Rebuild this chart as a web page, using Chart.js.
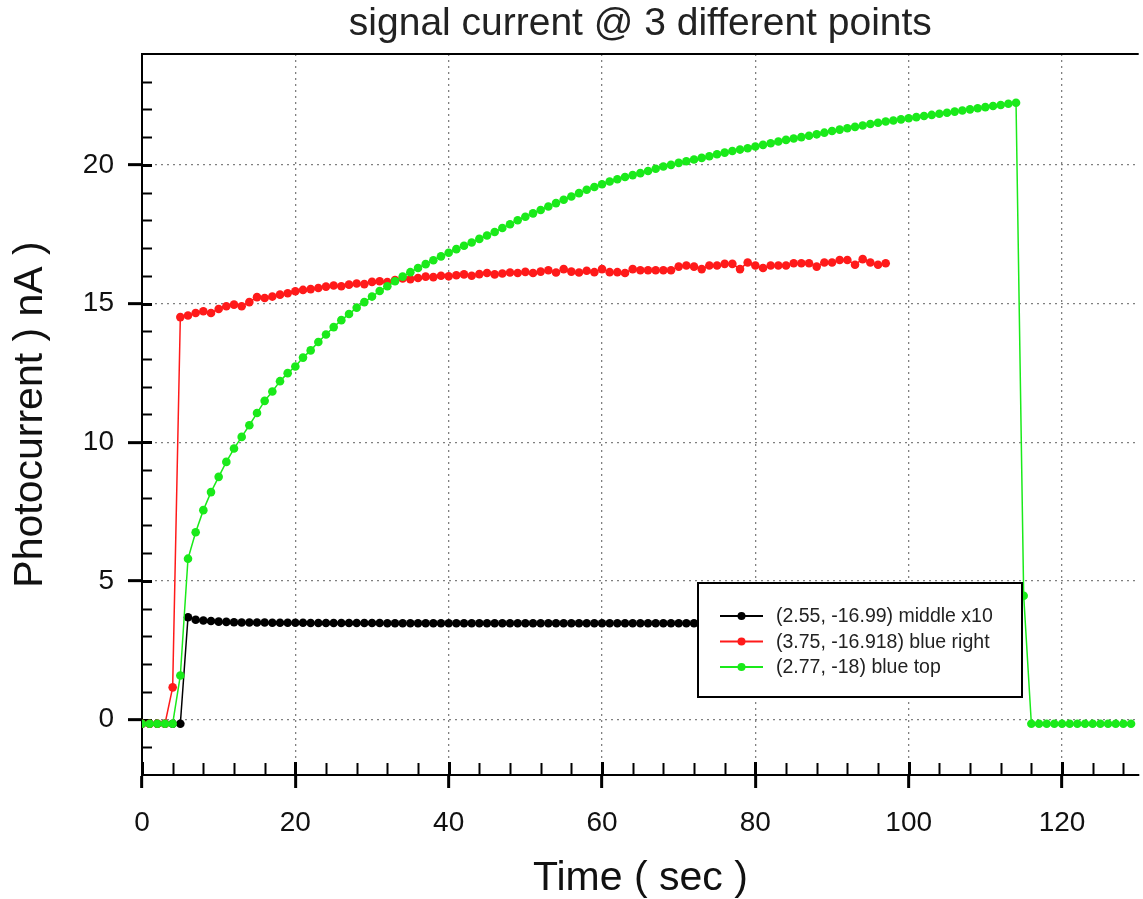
<!DOCTYPE html>
<html>
<head>
<meta charset="utf-8">
<title>signal current</title>
<script src="https://cdn.jsdelivr.net/npm/chart.js@4.4.0/dist/chart.umd.min.js"></script>
<style>
  html, body { margin: 0; padding: 0; background: #fff; }
  canvas { display: block; }
</style>
</head>
<body>
<canvas id="signalChart" width="1143" height="899"></canvas>
<script>
// sampling: one reading per second, all three runs start at t = 0
var sampleStep = 1;

// (2.55, -16.99) middle, already multiplied by 10
var middleX10 = [
  -0.15, -0.15, -0.15, -0.15, -0.15, -0.15,
  3.69, 3.6, 3.57, 3.55, 3.53, 3.52, 3.51, 3.5, 3.5, 3.5,
  3.5, 3.49, 3.49, 3.49, 3.49, 3.49, 3.48, 3.48, 3.48, 3.48,
  3.48, 3.48, 3.48, 3.48, 3.48, 3.48, 3.47, 3.47, 3.47, 3.47,
  3.47, 3.47, 3.47, 3.47, 3.47, 3.47, 3.47, 3.47, 3.47, 3.47,
  3.47, 3.47, 3.47, 3.47, 3.47, 3.47, 3.47, 3.47, 3.47, 3.47,
  3.47, 3.47, 3.47, 3.47, 3.47, 3.47, 3.47, 3.47, 3.47, 3.47,
  3.47, 3.47, 3.47, 3.47, 3.47, 3.47, 3.47, 3.47, 3.47, 3.47,
  3.47, 3.47, 3.47, 3.47, 3.47, 3.47, 3.47, 3.47, 3.47, 3.47,
  3.47, 3.47, 3.47, 3.47, 3.47, 3.47, 3.47, 3.47, 3.47, 3.47,
  3.47, 3.47
];

// (3.75, -16.918) blue right
var blueRight = [
  -0.15, -0.15, -0.15, -0.15, 1.16,
  14.51, 14.57, 14.66, 14.72, 14.66, 14.8, 14.9, 14.96, 14.9, 15.05,
  15.23, 15.2, 15.25, 15.32, 15.37, 15.44, 15.49, 15.52, 15.56, 15.61,
  15.65, 15.62, 15.68, 15.72, 15.7, 15.78, 15.8, 15.77, 15.85, 15.9,
  15.88, 15.92, 15.97, 15.95, 16.0, 15.98, 16.02, 16.05, 16.0, 16.06,
  16.1, 16.05, 16.08, 16.12, 16.1, 16.14, 16.1, 16.15, 16.2, 16.12,
  16.24, 16.15, 16.12, 16.18, 16.13, 16.24, 16.13, 16.13, 16.1, 16.24,
  16.2, 16.2, 16.2, 16.2, 16.2, 16.33, 16.37, 16.33, 16.24, 16.37,
  16.37, 16.43, 16.43, 16.24, 16.48, 16.37, 16.28, 16.37, 16.37, 16.37,
  16.45, 16.45, 16.45, 16.33, 16.48, 16.48, 16.57, 16.57, 16.4, 16.6,
  16.48, 16.4, 16.45
];

// (2.77, -18) blue top
var blueTop = [
  -0.15, -0.15, -0.15, -0.15, -0.15, 1.59,
  5.8, 6.75, 7.55, 8.2, 8.75, 9.29, 9.77, 10.19, 10.61, 11.05,
  11.49, 11.83, 12.2, 12.49, 12.73, 13.05, 13.31, 13.61, 13.88, 14.15,
  14.4, 14.62, 14.85, 15.05, 15.25, 15.45, 15.62, 15.8, 15.97, 16.13,
  16.28, 16.42, 16.56, 16.7, 16.83, 16.96, 17.08, 17.2, 17.33, 17.45,
  17.58, 17.72, 17.86, 18.0, 18.13, 18.25, 18.37, 18.5, 18.62, 18.74,
  18.86, 18.98, 19.1, 19.2, 19.3, 19.4, 19.48, 19.56, 19.63, 19.7,
  19.78, 19.86, 19.94, 20.0, 20.07, 20.13, 20.19, 20.25, 20.31, 20.38,
  20.44, 20.5, 20.55, 20.6, 20.66, 20.72, 20.78, 20.84, 20.9, 20.95,
  21.0, 21.05, 21.1, 21.16, 21.22, 21.27, 21.32, 21.37, 21.42, 21.47,
  21.52, 21.56, 21.6, 21.64, 21.68, 21.72, 21.76, 21.8, 21.84, 21.88,
  21.92, 21.96, 22.0, 22.04, 22.08, 22.12, 22.16, 22.2, 22.24, 4.46,
  -0.15, -0.15, -0.15, -0.15, -0.15, -0.15, -0.15, -0.15, -0.15, -0.15,
  -0.15, -0.15, -0.15, -0.15
];

var seriesNames = ['(2.55, -16.99) middle x10', '(3.75, -16.918) blue right', '(2.77, -18) blue top'];
var seriesColors = ['#000000', '#ff1a1a', '#1aea1a'];

// axis ranges and tick steps
var xMin = 0, xMax = 130, xMajor = 20, xMinor = 4;
var yMin = -2, yMax = 24, yMajor = 5, yMinor = 1;

var FONT = '"Liberation Sans", Arial, Helvetica, sans-serif';

function toPoints(vals) {
  return vals.map(function (v, i) { return { x: i * sampleStep, y: v }; });
}

// minor ticks, inner half of the major ticks and the top frame line
var axisDecor = {
  id: 'axisDecor',
  beforeDatasetsDraw: function (chart) {
    var ctx = chart.ctx, a = chart.chartArea;
    var xs = chart.scales.x, ys = chart.scales.y;
    ctx.save();
    ctx.strokeStyle = '#000';
    ctx.lineWidth = 2;
    ctx.beginPath();
    ctx.moveTo(a.left, a.top);
    ctx.lineTo(a.right, a.top);
    ctx.stroke();

    for (var t = xMin; t < xMax; t += xMinor) {
      var px = Math.round(xs.getPixelForValue(t)) + 0.5;
      var big = t % xMajor === 0;
      ctx.lineWidth = big ? 3 : 2;
      ctx.beginPath();
      ctx.moveTo(px, a.bottom);
      ctx.lineTo(px, a.bottom - (big ? 13 : 12));
      ctx.stroke();
    }
    for (var v = yMin + 1; v < yMax; v += yMinor) {
      var py = Math.round(ys.getPixelForValue(v)) + 0.5;
      var bigY = v % yMajor === 0;
      ctx.lineWidth = bigY ? 3 : 2;
      ctx.beginPath();
      ctx.moveTo(a.left, py);
      ctx.lineTo(a.left + 10, py);
      ctx.stroke();
    }
    ctx.restore();
  }
};

// boxed legend sitting over the data
var boxLegend = {
  id: 'boxLegend',
  afterDatasetsDraw: function (chart) {
    var ctx = chart.ctx;
    var bx = 698, by = 583, bw = 324, bh = 114;
    ctx.save();
    ctx.fillStyle = '#fff';
    ctx.fillRect(bx, by, bw, bh);
    ctx.strokeStyle = '#000';
    ctx.lineWidth = 2;
    ctx.strokeRect(bx, by, bw, bh);
    ctx.font = '19.5px ' + FONT;
    ctx.textBaseline = 'middle';
    ctx.textAlign = 'left';
    var rows = [616, 641.5, 667];
    for (var i = 0; i < seriesNames.length; i++) {
      var y = rows[i];
      ctx.strokeStyle = seriesColors[i];
      ctx.fillStyle = seriesColors[i];
      ctx.lineWidth = 2;
      ctx.beginPath();
      ctx.moveTo(720, y);
      ctx.lineTo(763, y);
      ctx.stroke();
      ctx.beginPath();
      ctx.arc(741.5, y, 4, 0, Math.PI * 2);
      ctx.fill();
      ctx.fillStyle = '#222';
      ctx.fillText(seriesNames[i], 776, y + 1);
    }
    ctx.restore();
  }
};

function lineSet(idx, vals, order) {
  return {
    label: seriesNames[idx],
    data: toPoints(vals),
    borderColor: seriesColors[idx],
    backgroundColor: seriesColors[idx],
    borderWidth: 1.5,
    pointRadius: 4.3,
    pointBorderWidth: 0,
    pointHoverRadius: 4.3,
    tension: 0,
    order: order
  };
}

new Chart(document.getElementById('signalChart'), {
  type: 'line',
  data: {
    datasets: [
      lineSet(0, middleX10, 2),
      lineSet(1, blueRight, 1),
      lineSet(2, blueTop, 0)
    ]
  },
  options: {
    responsive: false,
    animation: false,
    events: [],
    layout: { padding: 0 },
    plugins: {
      legend: { display: false },
      tooltip: { enabled: false },
      title: {
        display: true,
        fullSize: false,
        text: 'signal current @ 3 different points',
        color: '#222',
        font: { family: FONT, size: 39, weight: 'normal', lineHeight: 1.1 },
        padding: { top: 3, bottom: 8 }
      }
    },
    scales: {
      x: {
        type: 'linear',
        min: xMin,
        max: xMax,
        afterFit: function (s) { s.height = 124; },
        ticks: {
          stepSize: xMajor,
          includeBounds: false,
          maxRotation: 0,
          autoSkip: false,
          padding: 18,
          color: '#111',
          font: { family: FONT, size: 28 }
        },
        grid: {
          color: '#808080',
          lineWidth: 1.3,
          tickLength: 13,
          tickColor: '#000',
          tickWidth: 3,
          tickBorderDash: []
        },
        border: { color: '#000', width: 2, dash: [2, 4] },
        title: {
          display: true,
          text: 'Time ( sec )',
          color: '#111',
          font: { family: FONT, size: 41, lineHeight: 1 },
          padding: { top: 0, bottom: 0 }
        }
      },
      y: {
        type: 'linear',
        min: yMin,
        max: yMax,
        afterFit: function (s) { s.width = 142; },
        ticks: {
          stepSize: yMajor,
          includeBounds: false,
          padding: 14,
          color: '#111',
          font: { family: FONT, size: 28 }
        },
        grid: {
          color: '#808080',
          lineWidth: 1.3,
          tickLength: 14,
          tickColor: '#000',
          tickWidth: 3,
          tickBorderDash: []
        },
        border: { color: '#000', width: 2, dash: [2, 4] },
        title: {
          display: true,
          text: 'Photocurrent ) nA )',
          color: '#111',
          font: { family: FONT, size: 41, lineHeight: 1 },
          padding: { top: 10, bottom: 0 }
        }
      }
    }
  },
  plugins: [axisDecor, boxLegend]
});
</script>
</body>
</html>
